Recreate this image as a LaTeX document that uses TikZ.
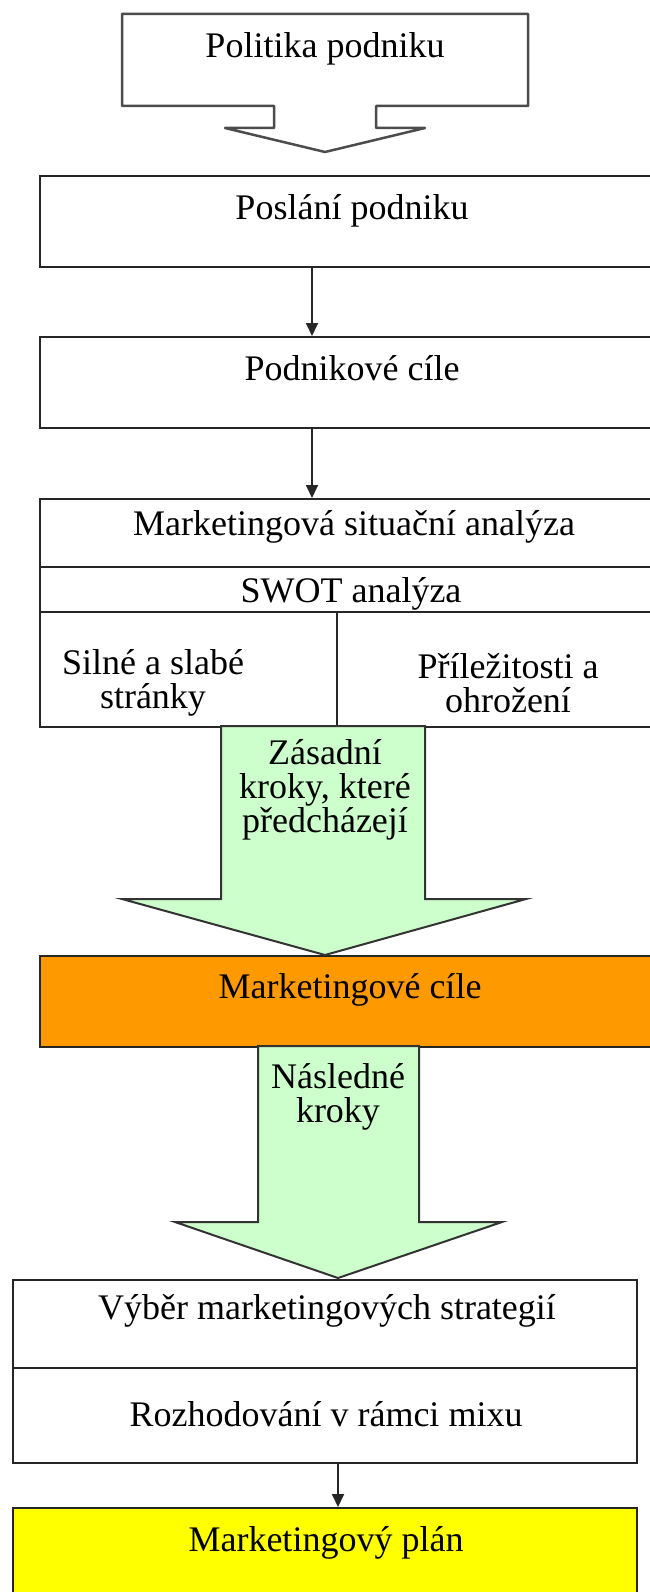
\documentclass[tikz,border=0pt]{standalone}
\usepackage{fontspec}
\setmainfont{Liberation Serif}
\usetikzlibrary{arrows.meta}
\definecolor{stepgreen}{HTML}{CCFFCC}
\definecolor{goalorange}{HTML}{FF9900}
\definecolor{planyellow}{HTML}{FFFF00}

\begin{document}
\begin{tikzpicture}[x=1pt,y=-1pt,
  box/.style={draw=black!85, line width=2pt, rectangle, anchor=north west, inner sep=0pt},
  txt/.style={font=\fontsize{36}{34}\selectfont, align=center, inner sep=0pt},
  conn/.style={draw=black!85, line width=1.8pt, -{Triangle[length=13pt,width=12pt]}},
  blockarrow/.style={draw=black!80, line width=2pt, fill=stepgreen, line join=miter},
  policyshape/.style={draw=black!70, line width=2.5pt, fill=white, line join=round},
]
\useasboundingbox (0,0) rectangle (650,1592);
\clip (0,0) rectangle (650,1592);

% company policy: box with a downward block arrow
\draw[policyshape] (122,14) -- (528,14) -- (528,106) -- (376,106) -- (376,128)
  -- (425,128) -- (325,152) -- (225,128) -- (274,128) -- (274,106) -- (122,106) -- cycle;
\node[txt] (tpol) at (325,49) {Politika podniku};

% mission and company goals
\node[box, minimum width=628pt, minimum height=91pt] (mise) at (39,175) {};
\node[txt] (tmise) at (352,211) {Poslání podniku};
\node[box, minimum width=628pt, minimum height=91pt] (cile) at (39,336) {};
\node[txt] (tcile) at (352,368) {Podnikové cíle};

% situation analysis block
\node[box, minimum width=628pt, minimum height=68pt] (situ) at (39,498) {};
\node[txt] (tsitu) at (354,527) {Marketingová situační analýza};
\node[box, minimum width=628pt, minimum height=45pt] (swot) at (39,566) {};
\node[txt] (tswot) at (351,594) {SWOT analýza};
\node[box, minimum width=297pt, minimum height=115pt] (sw) at (39,611) {};
\node[box, minimum width=331pt, minimum height=115pt] (ot) at (336,611) {};
\node[txt] (tsw) at (153,683) {Silné a slabé\\stránky};
\node[txt] (tot) at (508,683) {Příležitosti a\\ohrožení};

% marketing goals
\node[box, fill=goalorange, minimum width=628pt, minimum height=91pt] (mcile) at (39,955) {};
\node[txt] (tmcile) at (350,990) {Marketingové cíle};

% strategies and mix
\node[box, minimum width=624pt, minimum height=88pt] (strat) at (12,1279) {};
\node[txt] (tstrat) at (327,1311) {Výběr marketingových strategií};
\node[box, minimum width=624pt, minimum height=95pt] (mix) at (12,1367) {};
\node[txt] (tmix) at (326,1414) {Rozhodování v rámci mixu};

% marketing plan
\node[box, fill=planyellow, minimum width=624pt, minimum height=120pt] (plan) at (12,1507) {};
\node[txt] (tplan) at (326,1543) {Marketingový plán};

% connectors
\coordinate (cx1) at (312,0);
\coordinate (cx2) at (338,0);
\draw[conn] (mise.south -| cx1) -- (cile.north -| cx1);
\draw[conn] (cile.south -| cx1) -- (situ.north -| cx1);
\draw[conn] (mix.south -| cx2) -- (plan.north -| cx2);

% block arrows with step labels
\draw[blockarrow] (221,726) -- (425,726) -- (425,899) -- (526,899) -- (325,955)
  -- (122,899) -- (221,899) -- cycle;
\node[txt, anchor=north] (tzas) at (325,739) {Zásadní\\kroky, které\\předcházejí};
\draw[blockarrow] (258,1046) -- (419,1046) -- (419,1222) -- (502,1222) -- (338,1278)
  -- (175,1222) -- (258,1222) -- cycle;
\node[txt, anchor=north] (tnasl) at (338,1063) {Následné\\kroky};
\end{tikzpicture}
\end{document}
